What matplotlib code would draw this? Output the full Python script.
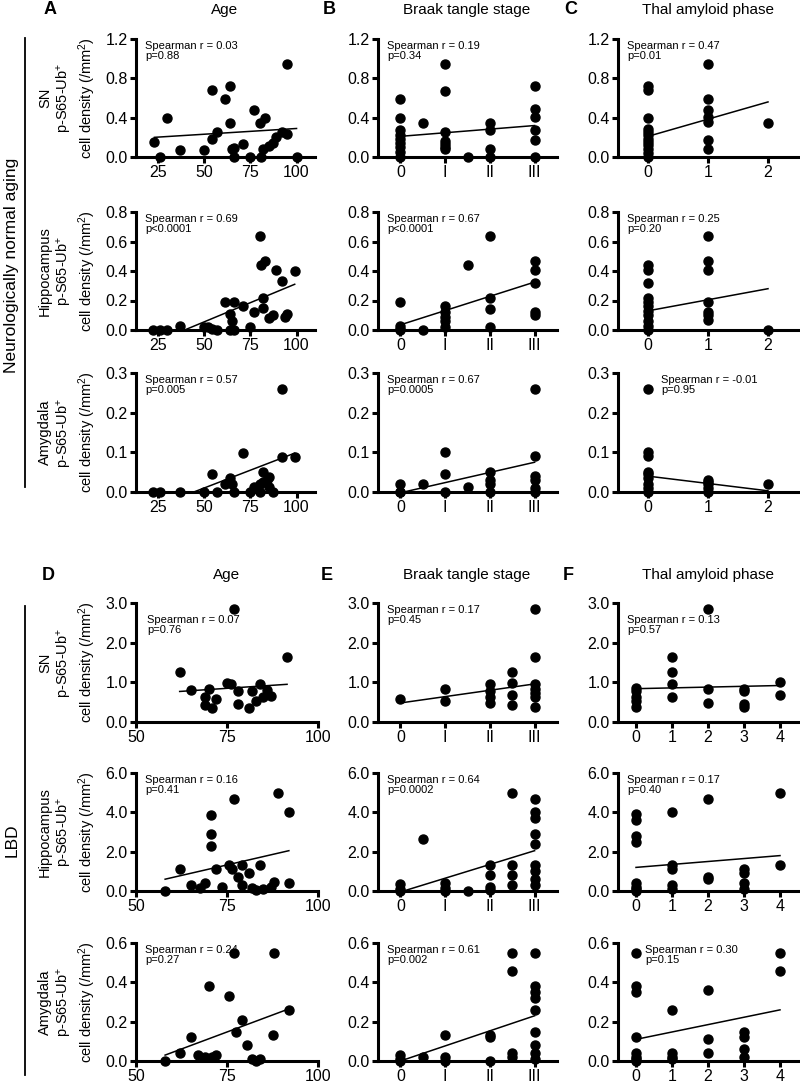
import matplotlib.pyplot as plt
from matplotlib.lines import Line2D

plt.rcParams['font.family'] = ['Liberation Sans', 'DejaVu Sans']
plt.rcParams['mathtext.fontset'] = 'custom'
plt.rcParams['mathtext.rm'] = 'Liberation Sans'
plt.rcParams['mathtext.default'] = 'rm'

# ---------------- Neurologically normal aging ----------------
# A: age
a_sn_x = [23, 26, 30, 37, 50, 54, 54, 57, 61, 64, 64, 65, 66, 66, 71, 75, 77, 80, 81, 82, 83, 85, 87, 89, 92, 95, 95, 100]
a_sn_y = [0.15, 0.0, 0.40, 0.07, 0.07, 0.18, 0.68, 0.25, 0.59, 0.72, 0.35, 0.08, 0.0, 0.09, 0.13, 0.0, 0.48, 0.35, 0.0, 0.08, 0.40, 0.11, 0.14, 0.20, 0.25, 0.95, 0.23, 0.0]
a_sn_fit = [0.20, 0.29]
a_hip_x = [22, 26, 30, 37, 50, 52, 54, 57, 61, 64, 65, 64, 66, 66, 71, 75, 77, 80, 81, 82, 82, 83, 85, 87, 89, 92, 94, 95, 99]
a_hip_y = [0.0, 0.0, 0.0, 0.03, 0.02, 0.02, 0.01, 0.0, 0.19, 0.11, 0.06, 0.0, 0.0, 0.19, 0.16, 0.02, 0.12, 0.64, 0.44, 0.22, 0.15, 0.47, 0.08, 0.10, 0.41, 0.33, 0.09, 0.11, 0.40]
a_hip_fit = [-0.09, 0.31]
a_amy_x = [22, 26, 37, 50, 54, 57, 61, 64, 65, 66, 71, 75, 77, 80, 80, 82, 82, 84, 85, 85, 87, 92, 92, 99]
a_amy_y = [0.0, 0.0, 0.0, 0.0, 0.045, 0.0, 0.019, 0.036, 0.02, 0.0, 0.098, 0.0, 0.013, 0.02, 0.0, 0.051, 0.026, 0.03, 0.039, 0.013, 0.0, 0.259, 0.087, 0.087]
a_amy_fit = [-0.04, 0.098]

# B: Braak tangle stage (0, I, II, III)
b_sn_x = [0, 0, 0, 0, 0, 0, 0, 0, 0, 0.5, 1, 1, 1, 1, 1, 1, 1, 1.5, 2, 2, 2, 2, 3, 3, 3, 3, 3, 3]
b_sn_y = [0.59, 0.40, 0.27, 0.22, 0.18, 0.14, 0.10, 0.05, 0.0, 0.35, 0.95, 0.67, 0.25, 0.16, 0.13, 0.10, 0.08, 0.0, 0.35, 0.27, 0.08, 0.0, 0.72, 0.49, 0.41, 0.27, 0.17, 0.0]
b_sn_fit = [0.21, 0.32]
b_hip_x = [0, 0, 0, 0, 0.5, 1, 1, 1, 1, 1, 1.5, 2, 2, 2, 2, 3, 3, 3, 3, 3]
b_hip_y = [0.19, 0.03, 0.01, 0.0, 0.0, 0.16, 0.12, 0.09, 0.06, 0.02, 0.44, 0.64, 0.22, 0.14, 0.02, 0.47, 0.41, 0.32, 0.12, 0.10]
b_hip_fit = [0.035, 0.325]
b_amy_x = [0, 0, 0, 0.5, 1, 1, 1, 1.5, 2, 2, 2, 2, 3, 3, 3, 3, 3, 3]
b_amy_y = [0.02, 0.0, 0.0, 0.02, 0.10, 0.045, 0.0, 0.013, 0.05, 0.03, 0.02, 0.0, 0.26, 0.09, 0.04, 0.03, 0.01, 0.0]
b_amy_fit = [-0.002, 0.075]

# C: Thal amyloid phase
c_sn_x = [0, 0, 0, 0, 0, 0, 0, 0, 0, 0, 0, 0, 1, 1, 1, 1, 1, 1, 1, 2]
c_sn_y = [0.72, 0.68, 0.40, 0.28, 0.25, 0.22, 0.18, 0.15, 0.12, 0.08, 0.04, 0.0, 0.95, 0.59, 0.48, 0.41, 0.36, 0.17, 0.08, 0.35]
c_sn_fit = [0.21, 0.56]
c_hip_x = [0, 0, 0, 0, 0, 0, 0, 0, 0, 0, 0, 1, 1, 1, 1, 1, 1, 1, 2]
c_hip_y = [0.44, 0.41, 0.32, 0.22, 0.19, 0.16, 0.13, 0.10, 0.06, 0.03, 0.0, 0.64, 0.47, 0.41, 0.19, 0.12, 0.10, 0.07, 0.0]
c_hip_fit = [0.13, 0.28]
c_amy_x = [0, 0, 0, 0, 0, 0, 0, 0, 0, 1, 1, 1, 1, 1, 2]
c_amy_y = [0.26, 0.10, 0.09, 0.05, 0.045, 0.035, 0.02, 0.01, 0.0, 0.03, 0.025, 0.02, 0.01, 0.0, 0.02]
c_amy_fit = [0.04, 0.003]

# ---------------- LBD ----------------
d_sn_x = [62, 65, 69, 69, 70, 71, 72, 75, 76, 77, 78, 78, 81, 82, 83, 84, 85, 86, 87, 91.5]
d_sn_y = [1.25, 0.80, 0.62, 0.42, 0.83, 0.36, 0.58, 0.98, 0.95, 2.86, 0.77, 0.45, 0.36, 0.78, 0.52, 0.96, 0.62, 0.80, 0.66, 1.63]
d_sn_fit = [0.77, 0.95]
d_hip_x = [58, 62, 65, 67.5, 69, 70.5, 70.5, 70.7, 72, 73.5, 75.5, 76.5, 77, 78, 79, 79, 81, 82, 83, 84, 85, 87, 88, 89, 92, 92]
d_hip_y = [0.0, 1.1, 0.3, 0.15, 0.4, 2.3, 2.9, 3.85, 1.1, 0.2, 1.3, 1.1, 4.7, 0.7, 1.3, 0.3, 0.9, 0.15, 0.05, 1.3, 0.1, 0.2, 0.45, 5.0, 4.0, 0.4]
d_hip_fit = [0.6, 2.05]
d_amy_x = [58, 62, 65, 67, 69, 70, 71, 72, 75.5, 77, 77.5, 79, 80.5, 82, 83, 84, 87.5, 88, 92]
d_amy_y = [0.0, 0.04, 0.12, 0.03, 0.02, 0.38, 0.02, 0.03, 0.33, 0.55, 0.15, 0.21, 0.08, 0.01, 0.0, 0.01, 0.13, 0.55, 0.26]
d_amy_fit = [0.03, 0.265]

e_sn_x = [0, 1, 1, 2, 2, 2, 2, 2.5, 2.5, 2.5, 2.5, 3, 3, 3, 3, 3, 3, 3]
e_sn_y = [0.57, 0.83, 0.54, 0.95, 0.78, 0.62, 0.47, 1.25, 0.99, 0.68, 0.43, 2.86, 1.63, 0.97, 0.83, 0.72, 0.62, 0.37]
e_sn_fit = [0.48, 0.96]
e_hip_x = [0, 0, 0, 0.5, 1, 1, 1, 1.5, 2, 2, 2, 2, 2.5, 2.5, 2.5, 2.5, 3, 3, 3, 3, 3, 3, 3, 3, 3]
e_hip_y = [0.35, 0.1, 0.0, 2.65, 0.4, 0.15, 0.0, 0.0, 1.3, 0.8, 0.2, 0.05, 5.0, 1.3, 0.8, 0.3, 4.7, 4.0, 3.7, 2.9, 2.4, 1.3, 1.0, 0.6, 0.3]
e_hip_fit = [-0.05, 2.05]
e_amy_x = [0, 0, 0, 0.5, 1, 1, 1, 2, 2, 2, 2.5, 2.5, 2.5, 2.5, 3, 3, 3, 3, 3, 3, 3, 3, 3]
e_amy_y = [0.03, 0.01, 0.0, 0.02, 0.13, 0.02, 0.0, 0.13, 0.12, 0.0, 0.55, 0.46, 0.04, 0.02, 0.55, 0.38, 0.35, 0.32, 0.26, 0.15, 0.08, 0.04, 0.01]
e_amy_fit = [0.0, 0.23]

f_sn_x = [0, 0, 0, 0, 0, 1, 1, 1, 1, 2, 2, 2, 3, 3, 3, 3, 4, 4]
f_sn_y = [0.85, 0.78, 0.64, 0.52, 0.37, 1.63, 1.25, 0.96, 0.62, 2.86, 0.83, 0.47, 0.83, 0.77, 0.45, 0.37, 1.0, 0.68]
f_sn_fit = [0.84, 0.92]
f_hip_x = [0, 0, 0, 0, 0, 0, 0, 0, 1, 1, 1, 1, 1, 2, 2, 2, 3, 3, 3, 3, 4, 4]
f_hip_y = [3.9, 3.6, 2.8, 2.5, 0.4, 0.2, 0.1, 0.0, 4.0, 1.3, 1.1, 0.3, 0.1, 4.7, 0.7, 0.6, 1.1, 0.9, 0.4, 0.1, 5.0, 1.3]
f_hip_fit = [1.2, 1.8]
f_amy_x = [0, 0, 0, 0, 0, 0, 0, 0, 1, 1, 1, 1, 2, 2, 2, 3, 3, 3, 3, 4, 4]
f_amy_y = [0.55, 0.38, 0.35, 0.12, 0.04, 0.02, 0.01, 0.0, 0.26, 0.04, 0.02, 0.01, 0.36, 0.11, 0.04, 0.15, 0.12, 0.06, 0.02, 0.55, 0.46]
f_amy_fit = [0.11, 0.26]

stats = [
    ['Spearman r = 0.03\np=0.88', 'Spearman r = 0.19\np=0.34', 'Spearman r = 0.47\np=0.01'],
    ['Spearman r = 0.69\np<0.0001', 'Spearman r = 0.67\np<0.0001', 'Spearman r = 0.25\np=0.20'],
    ['Spearman r = 0.57\np=0.005', 'Spearman r = 0.67\np=0.0005', 'Spearman r = -0.01\np=0.95'],
    ['Spearman r = 0.07\np=0.76', 'Spearman r = 0.17\np=0.45', 'Spearman r = 0.13\np=0.57'],
    ['Spearman r = 0.16\np=0.41', 'Spearman r = 0.64\np=0.0002', 'Spearman r = 0.17\np=0.40'],
    ['Spearman r = 0.24\np=0.27', 'Spearman r = 0.61\np=0.002', 'Spearman r = 0.30\np=0.15'],
]
regions = ['SN', 'Hippocampus', 'Amygdala']
col_titles = ['Age', 'Braak tangle stage', 'Thal amyloid phase']
braak_labels = ['0', 'I', 'II', 'III']

panels = [
    [(a_sn_x, a_sn_y, a_sn_fit), (b_sn_x, b_sn_y, b_sn_fit), (c_sn_x, c_sn_y, c_sn_fit)],
    [(a_hip_x, a_hip_y, a_hip_fit), (b_hip_x, b_hip_y, b_hip_fit), (c_hip_x, c_hip_y, c_hip_fit)],
    [(a_amy_x, a_amy_y, a_amy_fit), (b_amy_x, b_amy_y, b_amy_fit), (c_amy_x, c_amy_y, c_amy_fit)],
    [(d_sn_x, d_sn_y, d_sn_fit), (e_sn_x, e_sn_y, e_sn_fit), (f_sn_x, f_sn_y, f_sn_fit)],
    [(d_hip_x, d_hip_y, d_hip_fit), (e_hip_x, e_hip_y, e_hip_fit), (f_hip_x, f_hip_y, f_hip_fit)],
    [(d_amy_x, d_amy_y, d_amy_fit), (e_amy_x, e_amy_y, e_amy_fit), (f_amy_x, f_amy_y, f_amy_fit)],
]

# layout (pixels)
W, H = 800, 1084
rows_px = [(39, 157), (212, 330), (373, 492), (603, 722), (773, 891), (943, 1061)]
yticks_rows = [[0, 0.4, 0.8, 1.2], [0, 0.2, 0.4, 0.6, 0.8], [0, 0.1, 0.2, 0.3],
               [0, 1, 2, 3], [0, 2, 4, 6], [0, 0.2, 0.4, 0.6]]
text_pos = {(2, 2): (0.24, 0.98), (3, 0): (0.06, 0.9), (3, 2): (0.05, 0.9), (5, 2): (0.15, 0.98)}

fig = plt.figure(figsize=(W / 100, H / 100), dpi=100)

for r in range(6):
    top, bot = rows_px[r]
    lower = r >= 3
    cols_px = [(136, 318 if lower else 315), (378, 557), (618, 798)]
    for c in range(3):
        left, right = cols_px[c]
        ax = fig.add_axes([left / W, 1 - bot / H, (right - left) / W, (bot - top) / H])
        x, y, fit = panels[r][c]
        ax.plot([min(x), max(x)], fit, color='black', lw=1.1, zorder=2)
        ax.plot(x, y, 'o', color='black', ms=6.5, clip_on=False, zorder=3)

        yt = yticks_rows[r]
        ax.set_ylim(0, yt[-1])
        ax.set_yticks(yt)
        ax.set_yticklabels([f'{t:.1f}' for t in yt])
        if c == 0:
            if lower:
                ax.set_xlim(50, 100)
                ax.set_xticks([50, 75, 100])
            else:
                ax.set_xlim(13, 110)
                ax.set_xticks([25, 50, 75, 100])
            ax.set_ylabel(regions[r % 3] + '\np-S65-Ub$^{+}$\ncell density (/mm$^{2}$)',
                          fontsize=10.5, labelpad=5, linespacing=1.2)
        elif c == 1:
            ax.set_xlim(-0.5, 3.5)
            ax.set_xticks([0, 1, 2, 3])
            ax.set_xticklabels(braak_labels)
        else:
            n = 4 if lower else 2
            ax.set_xlim(-0.5, n + 0.5)
            ax.set_xticks(list(range(n + 1)))

        for s in ['top', 'right']:
            ax.spines[s].set_visible(False)
        for s in ['left', 'bottom']:
            ax.spines[s].set_linewidth(2.2)
            ax.spines[s].set_capstyle('projecting')
        ax.tick_params(width=2.2, length=4, labelsize=11.5, pad=2, color='black')
        ax.patch.set_alpha(0)

        tx, ty = text_pos.get((r, c), (0.05, 0.98))
        ax.text(tx, ty, stats[r][c], transform=ax.transAxes, fontsize=8,
                ha='left', va='top', linespacing=1.0)

# column titles and panel letters
for ly, letters, xs, title_xs in [(10, 'ABC', [50, 329, 571], [225, 467, 708]),
                                  (575, 'DEF', [48, 327, 568], [227, 467, 708])]:
    for i in range(3):
        fig.text(xs[i] / W, 1 - ly / H, letters[i], fontsize=13, fontweight='bold',
                 ha='center', va='center')
        fig.text(title_xs[i] / W, 1 - ly / H, col_titles[i], fontsize=11,
                 ha='center', va='center')

# group labels
fig.text(12 / W, 1 - 265 / H, 'Neurologically normal aging', rotation=90,
         fontsize=12.5, ha='center', va='center')
fig.add_artist(Line2D([25 / W, 25 / W], [1 - 38 / H, 1 - 487 / H], color='black', lw=1.3))
fig.text(12 / W, 1 - 840 / H, 'LBD', rotation=90, fontsize=12.5, ha='center', va='center')
fig.add_artist(Line2D([25 / W, 25 / W], [1 - 606 / H, 1 - 1075 / H], color='black', lw=1.3))

fig.savefig('out.png', dpi=100)
